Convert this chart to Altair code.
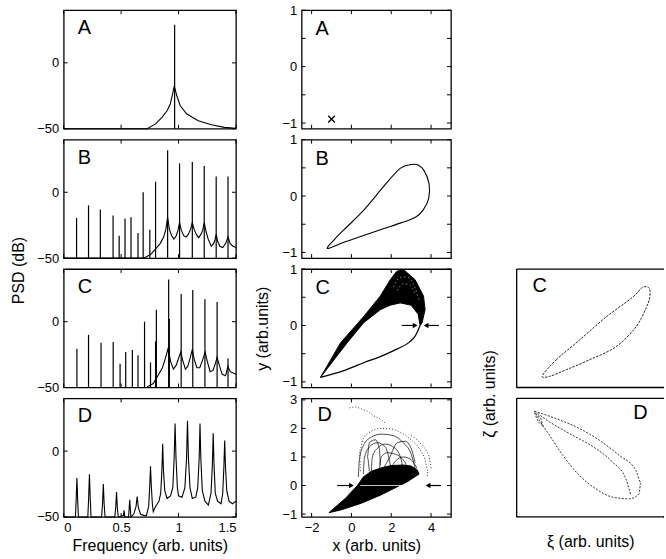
import altair as alt
import pandas as pd

FONT = "Liberation Sans"
LW, MW, RW, H = 173, 150, 148, 119
FLOOR_DB = -50

# ---------------- Left column: power spectra (freq, dB) ----------------
A_bg_f = [0.0, 0.727, 0.80, 0.856, 0.90, 0.928, 0.948, 0.963, 0.985, 1.015, 1.072, 1.172, 1.287, 1.40, 1.5]
A_bg_db = [-50, -50, -46.4, -41.4, -36.4, -31.3, -23.7, -17.4, -25, -32.6, -38.9, -44, -47, -49, -49.8]
A_pk_f = [0.966]
A_pk_db = [29]

B_pk_f = [0.112, 0.216, 0.319, 0.430, 0.483, 0.534, 0.586, 0.647, 0.692, 0.750, 0.800,
          0.905, 1.009, 1.120, 1.224, 1.328, 1.431]
B_pk_db = [-19.5, -10, -13, -17.7, -33, -20, -19, -31, 0, -28.5, 8, 32, 22, 23, 20, 12, 12]
B_bg_f = [0.0, 0.70, 0.76, 0.80, 0.84, 0.87, 0.89, 0.905, 0.92, 0.94, 0.96, 0.98, 0.995, 1.009,
          1.025, 1.045, 1.065, 1.085, 1.105, 1.12, 1.135, 1.155, 1.175, 1.195, 1.21, 1.224,
          1.24, 1.26, 1.285, 1.305, 1.318, 1.328, 1.34, 1.36, 1.385, 1.41, 1.431, 1.45, 1.475, 1.5]
B_bg_db = [-50, -50, -47, -43, -39, -34, -28, -19, -28, -33, -35.5, -33, -29, -23,
           -29, -33, -34, -32, -28, -23, -28, -32, -34.5, -32, -29, -23,
           -30, -36, -41, -39, -36, -32, -37, -41, -42, -39, -34, -39, -41, -42]

C_pk_f = [0.115, 0.216, 0.325, 0.431, 0.491, 0.540, 0.598, 0.647, 0.704, 0.756, 0.800, 0.807,
          0.914, 0.920, 1.023, 1.124, 1.230, 1.336, 1.431]
C_pk_db = [-20.5, -10, -16, -15.5, -32, -23, -21.5, -25.5, 0, -31, -15, 9, 32, 2, 21, 24, 17, 15, -28]
C_bg_f = [0.0, 0.72, 0.78, 0.82, 0.86, 0.885, 0.91, 0.93, 0.955, 0.98, 1.0, 1.02, 1.035, 1.06,
          1.08, 1.10, 1.12, 1.135, 1.16, 1.185, 1.21, 1.232, 1.25, 1.275, 1.30, 1.32, 1.336,
          1.355, 1.38, 1.41, 1.43, 1.45, 1.5]
C_bg_db = [-50, -50, -47, -41, -35, -28, -20, -30, -36, -33, -28, -23, -29, -36,
           -34, -28, -21, -28, -35, -35, -29, -23, -30, -38, -37, -32, -27,
           -33, -40, -41, -34, -38, -40]

D_f = [0.0, 0.102, 0.108, 0.115, 0.122, 0.128, 0.21, 0.217, 0.224, 0.231, 0.238, 0.33, 0.338, 0.345, 0.352, 0.36,
       0.445, 0.453, 0.46, 0.467, 0.475, 0.52, 0.526, 0.532, 0.565, 0.575, 0.585, 0.61, 0.63, 0.64, 0.65, 0.67,
       0.70, 0.72, 0.74, 0.75, 0.756, 0.762, 0.772, 0.78, 0.80, 0.83, 0.845, 0.855, 0.862, 0.869, 0.88, 0.90,
       0.93, 0.95, 0.962, 0.97, 0.978, 0.99, 1.0, 1.03, 1.055, 1.07, 1.078, 1.086, 1.10, 1.12, 1.15, 1.167,
       1.18, 1.187, 1.194, 1.207, 1.23, 1.26, 1.283, 1.295, 1.302, 1.309, 1.32, 1.34, 1.37, 1.385, 1.395,
       1.402, 1.409, 1.42, 1.44, 1.47, 1.5]
D_db = [-50, -50, -38, -20.5, -38, -50, -50, -36, -17.5, -36, -50, -50, -40, -25, -40, -50,
        -50, -43, -31, -43, -50, -49, -45, -50, -50, -37, -50, -48, -42, -34.5, -43, -48,
        -49, -49, -42, -25, -11.5, -25, -40, -46, -42, -38, -32, -15, 5.5, -15, -30, -36,
        -34, -28, -5, 21, -5, -28, -34, -35, -28, -5, 23, -5, -28, -36, -35, -28,
        -5, 21, -5, -30, -38, -41, -32, -10, 13.5, -10, -32, -38, -40, -32, -12,
        8, -12, -30, -38, -40, -38]

# ---------------- Middle column: phase portraits (x, y) ----------------
MA_x = [-1.0]
MA_y = [-0.93]

MB_x = [-1.2, -0.88, -0.38, 0.62, 1.62, 2.45, 3.03, 3.35, 3.65, 3.9, 3.88, 3.6, 3.2, 2.45, 1.6, 0.62, -0.38]
MB_y = [-0.93, -0.78, -0.6, -0.25, 0.17, 0.49, 0.56, 0.55, 0.45, 0.22, -0.04, -0.25, -0.38, -0.48, -0.58, -0.7, -0.82]

MC_band_x = [-1.55, -0.55, 0.62, 1.45, 1.95, 2.28, 2.62, 3.2, 3.62, 3.7, 3.55, 3.45,
             3.35, 3.0, 2.45, 1.95, 1.45, 0.62, -0.2, -0.9, -1.55]
MC_band_y = [-0.92, -0.31, 0.16, 0.52, 0.81, 0.96, 0.99, 0.81, 0.52, 0.28, 0.05, 0.0,
             0.2, 0.36, 0.4, 0.36, 0.28, 0.05, -0.3, -0.62, -0.92]
MC_low_x = [-1.55, -0.38, 0.62, 1.6, 2.28, 2.9, 3.2, 3.45]
MC_low_y = [-0.92, -0.8, -0.66, -0.53, -0.42, -0.3, -0.19, 0.0]
MC_tex_x = [[2.1, 2.45, 2.8, 3.15, 3.4], [2.3, 2.6, 2.9, 3.2]]
MC_tex_y = [[0.68, 0.85, 0.86, 0.7, 0.45], [0.62, 0.74, 0.72, 0.55]]
MC_arr_tail = [2.53, 4.4]
MC_arr_head = [3.2, 3.75]
MC_arr_y = [0.0, 0.0]

MD_wedge_x = [-1.13, -0.3, 0.3, 0.6, 1.0, 1.5, 2.0, 2.6, 3.0, 3.3, 3.4, 2.8, 2.0, 1.45, 0.5, -0.5, -1.13]
MD_wedge_y = [-0.95, -0.45, 0.0, 0.3, 0.5, 0.62, 0.7, 0.72, 0.68, 0.55, 0.4, 0.13, -0.15, -0.34, -0.62, -0.85, -0.95]
MD_arcs_x = [[0.35, 0.4, 0.6, 1.0, 1.5, 2.1, 2.6, 3.0, 3.2],
             [0.6, 0.65, 0.9, 1.3, 1.7, 1.9, 2.0],
             [1.0, 1.05, 1.3, 1.7, 2.2, 2.5, 2.6],
             [1.4, 1.5, 1.8, 2.2, 2.6, 2.9],
             [0.9, 0.8, 0.9, 1.2, 1.4, 1.45],
             [1.6, 1.9, 2.3, 2.7, 3.0, 3.2],
             [2.0, 2.2, 2.6, 3.0, 3.3]]
MD_arcs_y = [[0.3, 0.9, 1.4, 1.7, 1.8, 1.75, 1.5, 1.1, 0.6],
             [0.4, 0.95, 1.35, 1.5, 1.35, 0.9, 0.5],
             [0.5, 1.0, 1.3, 1.45, 1.3, 0.9, 0.55],
             [0.55, 1.0, 1.15, 1.1, 0.9, 0.55],
             [0.5, 1.0, 1.5, 1.6, 1.3, 0.7],
             [0.6, 0.95, 1.5, 1.55, 1.3, 0.8],
             [0.6, 0.85, 1.0, 0.9, 0.6]]
MD_env_x = [[0.45, 0.4, 0.6, 1.0, 1.5, 2.0, 2.5, 3.0, 3.4, 3.7, 3.85, 3.8],
            [3.0, 3.5, 3.9, 4.0],
            [-0.1, 0.2, 0.5, 0.8, 1.1, 1.4, 1.6, 1.75]]
MD_env_y = [[0.5, 1.2, 1.65, 1.9, 2.0, 1.98, 1.85, 1.6, 1.3, 0.9, 0.5, 0.3],
            [1.75, 1.45, 1.0, 0.6],
            [2.72, 2.75, 2.68, 2.6, 2.45, 2.35, 2.25, 2.15]]
MD_gap_x = [0.45, 3.1]
MD_gap_y = [0.0, 0.0]
MD_arr_tail = [-0.72, 4.5]
MD_arr_head = [0.0, 3.85]
MD_arr_y = [0.0, 0.0]

# ---------------- Right column: reconstructed portraits (xi, zeta) ----------------
RC_x = [0.175, 0.268, 0.426, 0.606, 0.786, 0.853, 0.899, 0.903, 0.876, 0.809, 0.674, 0.493, 0.336, 0.223]
RC_y = [0.10, 0.233, 0.40, 0.594, 0.761, 0.844, 0.839, 0.761, 0.664, 0.511, 0.344, 0.233, 0.15, 0.094]
RD_x = [[0.122, 0.268, 0.426, 0.561, 0.696, 0.809, 0.842, 0.831, 0.764, 0.651, 0.538, 0.426, 0.313, 0.223, 0.155, 0.122],
        [0.122, 0.223, 0.38, 0.538, 0.651, 0.741, 0.775],
        [0.12, 0.15, 0.18, 0.16, 0.13]]
RD_y = [[0.892, 0.83, 0.746, 0.647, 0.52, 0.392, 0.294, 0.195, 0.153, 0.167, 0.237, 0.35, 0.52, 0.689, 0.816, 0.892],
        [0.892, 0.802, 0.689, 0.576, 0.463, 0.322, 0.18],
        [0.88, 0.80, 0.76, 0.84, 0.86]]


def sc(dom):
    return alt.Scale(domain=dom, nice=False, zero=False)


def xy_df(xs, ys):
    return pd.DataFrame({"x": xs, "y": ys, "i": list(range(len(xs)))})


def groups_df(xss, yss):
    rows = []
    for g, (xs, ys) in enumerate(zip(xss, yss)):
        for i, (a, b) in enumerate(zip(xs, ys)):
            rows.append({"x": a, "y": b, "i": i, "g": g})
    return pd.DataFrame(rows)


class Panel:
    def __init__(self, W, xdom, ydom, xaxis, yaxis):
        self.W = W
        self.xs = sc(xdom)
        self.ys = sc(ydom)
        self.xa = xaxis
        self.ya = yaxis
        self.layers = []

    def X(self, f):
        return alt.X(f, scale=self.xs, axis=self.xa)

    def Y(self, f):
        return alt.Y(f, scale=self.ys, axis=self.ya)

    def line(self, df, **kw):
        enc = dict(x=self.X("x:Q"), y=self.Y("y:Q"), order="i:Q")
        if "g" in df.columns:
            enc["detail"] = "g:N"
        self.layers.append(alt.Chart(df).mark_line(**kw).encode(**enc))

    def ticks(self, xt, yt, L=4):
        dx = pd.DataFrame({"v": xt})
        dy = pd.DataFrame({"v": yt})
        r = dict(color="black", strokeWidth=1)
        W = self.W
        self.layers += [
            alt.Chart(dx).mark_rule(**r).encode(x=self.X("v:Q"), y=alt.value(0), y2=alt.value(L)),
            alt.Chart(dx).mark_rule(**r).encode(x=self.X("v:Q"), y=alt.value(H - L), y2=alt.value(H)),
            alt.Chart(dy).mark_rule(**r).encode(y=self.Y("v:Q"), x=alt.value(0), x2=alt.value(L)),
            alt.Chart(dy).mark_rule(**r).encode(y=self.Y("v:Q"), x=alt.value(W - L), x2=alt.value(W)),
        ]

    def letter(self, t, px, py):
        self.layers.append(alt.Chart(pd.DataFrame({"t": [t]})).mark_text(
            font=FONT, fontSize=20, align="left", baseline="middle", color="black"
        ).encode(text="t:N", x=alt.value(px), y=alt.value(py)))

    def arrows(self, tail, head, yv):
        df = pd.DataFrame({"t": tail, "h": head, "y": yv,
                           "s": ["triangle-right" if h > t else "triangle-left" for t, h in zip(tail, head)]})
        self.layers.append(alt.Chart(df).mark_rule(color="black", strokeWidth=1.2).encode(
            x=self.X("t:Q"), x2="h:Q", y=self.Y("y:Q")))
        self.layers.append(alt.Chart(df).mark_point(filled=True, color="black", size=30, opacity=1).encode(
            x=self.X("h:Q"), y=self.Y("y:Q"), shape=alt.Shape("s:N", scale=None)))

    def border(self):
        d = pd.DataFrame({"k": [0]})
        r = dict(color="black", strokeWidth=1.3)
        self.layers += [
            alt.Chart(d).mark_rule(**r).encode(x=alt.value(0), x2=alt.value(self.W), y=alt.value(0)),
            alt.Chart(d).mark_rule(**r).encode(x=alt.value(0), x2=alt.value(self.W), y=alt.value(H)),
            alt.Chart(d).mark_rule(**r).encode(x=alt.value(0), y=alt.value(0), y2=alt.value(H)),
        ]

    def chart(self, **props):
        return alt.layer(*self.layers).properties(width=self.W, height=H, **props)


LAB = dict(ticks=False, domain=False, grid=False, labelFontSize=13, labelFont=FONT,
           labelColor="black", titleFont=FONT, titleFontSize=16, titleFontWeight="normal",
           titleColor="black")

# ---------- left column ----------
LXT, LYT = [0, 0.5, 1, 1.5], [-50, 0]


def left_panel(name, peaks_f, peaks_db, bg_f, bg_db, ytitle=False, xtitle=False):
    if ytitle:
        yax = alt.Axis(values=LYT, labelPadding=5, title="PSD (dB)", titleX=-45, titleY=131,
                       titleAngle=270, titleBaseline="middle", titleAlign="center", **LAB)
    else:
        yax = alt.Axis(values=LYT, labelPadding=5, title=None, **LAB)
    xax = None
    if xtitle:
        xax = alt.Axis(values=LXT, format="~g", labelPadding=5, orient="bottom",
                       title="Frequency  (arb. units)", titleY=29, titleBaseline="middle", **LAB)
    p = Panel(LW, [0, 1.5], [-50, 40], xax, yax)
    p.ticks(LXT, LYT)
    p.line(xy_df(bg_f, bg_db), color="black", strokeWidth=1.1)
    if peaks_f:
        pk = pd.DataFrame({"f": peaks_f, "db": peaks_db, "base": [FLOOR_DB] * len(peaks_f)})
        p.layers.append(alt.Chart(pk).mark_rule(color="black", strokeWidth=1.2).encode(
            x=p.X("f:Q"), y=p.Y("base:Q"), y2="db:Q"))
    p.letter(name, 14, 18)
    return p.chart()


LA = left_panel("A", A_pk_f, A_pk_db, A_bg_f, A_bg_db)
LB = left_panel("B", B_pk_f, B_pk_db, B_bg_f, B_bg_db, ytitle=True)
LC = left_panel("C", C_pk_f, C_pk_db, C_bg_f, C_bg_db)
LD = left_panel("D", [], [], D_f, D_db, xtitle=True)

# ---------- middle column ----------
MXT = [-2, 0, 2, 4]
MYT = [-1, -0.5, 0, 0.5, 1]


def mid_panel(ydom, ylabels, ytitle=None, xtitle=None):
    if ytitle:
        yax = alt.Axis(values=ylabels, format="~g", labelPadding=5, title=ytitle, titleX=-39, titleY=H / 2,
                       titleAngle=270, titleBaseline="middle", titleAlign="center", **LAB)
    else:
        yax = alt.Axis(values=ylabels, format="~g", labelPadding=5, title=None, **LAB)
    xax = None
    if xtitle:
        xax = alt.Axis(values=MXT, format="~g", labelPadding=5, orient="bottom", title=xtitle,
                       titleY=29, titleBaseline="middle", **LAB)
    return Panel(MW, [-2.5, 5], ydom, xax, yax)


p = mid_panel([-1.1, 1.0], [-1, 0, 1])
p.ticks(MXT, MYT)
p.layers.append(alt.Chart(pd.DataFrame({"x": MA_x, "y": MA_y})).mark_point(
    shape="M-1,-1L1,1M-1,1L1,-1", size=45, filled=False, color="black", strokeWidth=1.3, opacity=1
).encode(x=p.X("x:Q"), y=p.Y("y:Q")))
p.letter("A", 14, 19)
MA = p.chart()

p = mid_panel([-1.1, 1.0], [-1, 0, 1])
p.ticks(MXT, MYT)
p.line(xy_df(MB_x, MB_y), color="black", strokeWidth=1.1, interpolate="cardinal-closed")
p.letter("B", 14, 19)
MB = p.chart()

p = mid_panel([-1.1, 1.0], [-1, 0, 1], ytitle="y (arb.units)")
p.ticks(MXT, MYT)
p.line(xy_df(MC_band_x, MC_band_y), color="black", fill="black", strokeWidth=1)
p.line(xy_df(MC_low_x, MC_low_y), color="black", strokeWidth=1.2, interpolate="monotone")
p.line(groups_df(MC_tex_x, MC_tex_y), color="white", strokeWidth=0.5, strokeDash=[1.5, 2.5],
       interpolate="monotone")
p.arrows(MC_arr_tail, MC_arr_head, MC_arr_y)
p.letter("C", 14, 19)
MC = p.chart()

p = mid_panel([-1.1, 3.05], [-1, 0, 1, 2, 3], xtitle="x (arb. units)")
p.ticks(MXT, [-1, 0, 1, 2, 3])
p.line(xy_df(MD_wedge_x, MD_wedge_y), color="black", fill="black", strokeWidth=1)
p.line(groups_df(MD_arcs_x, MD_arcs_y), color="black", strokeWidth=0.7, interpolate="monotone")
p.line(groups_df(MD_env_x, MD_env_y), color="#333333", strokeWidth=1, strokeDash=[1, 2], interpolate="monotone")
p.line(xy_df(MD_gap_x, MD_gap_y), color="white", strokeWidth=0.8)
p.arrows(MD_arr_tail, MD_arr_head, MD_arr_y)
p.letter("D", 16, 17)
MD = p.chart()

# ---------- right column ----------
NOVIEW = alt.ViewBackground(stroke="transparent")

p = Panel(RW, [0, 1], [0, 1], None,
          alt.Axis(labels=False, title="ζ (arb. units)", titleX=-27, titleY=H + 6,
                   titleAngle=270, titleBaseline="middle", titleAlign="center", **LAB))
p.ticks([0], [0], L=1)
p.border()
p.line(xy_df(RC_x, RC_y), color="#222222", strokeWidth=1, strokeDash=[2.5, 1.2], interpolate="cardinal-closed")
p.letter("C", 16, 17)
RC = p.chart(view=NOVIEW)

p = Panel(RW, [0, 1], [0, 1],
          alt.Axis(labels=False, orient="bottom", title="ξ (arb. units)", titleY=25,
                   titleBaseline="middle", **LAB), None)
p.ticks([0], [0], L=1)
p.border()
p.line(groups_df(RD_x, RD_y), color="#333333", strokeWidth=1, strokeDash=[2, 1.5], interpolate="monotone")
p.letter("D", 117, 15)
RD = p.chart(view=NOVIEW)


def blank():
    d = pd.DataFrame({"k": [0]})
    return alt.Chart(d).mark_rule(opacity=0).encode(
        x=alt.value(0), y=alt.value(0), y2=alt.value(1)).properties(width=RW, height=H, view=NOVIEW)


chart = alt.concat(
    LA, MA, blank(),
    LB, MB, blank(),
    LC, MC, RC,
    LD, MD, RD,
    columns=3, spacing={"row": 11, "column": 66}, bounds="flush", align="each",
).configure_view(stroke="black", strokeWidth=1.3).properties(
    padding={"left": 10, "top": 2, "right": 0, "bottom": 0}, background="white")

chart.save("out.html", embed_options={"renderer": "svg", "actions": False})
